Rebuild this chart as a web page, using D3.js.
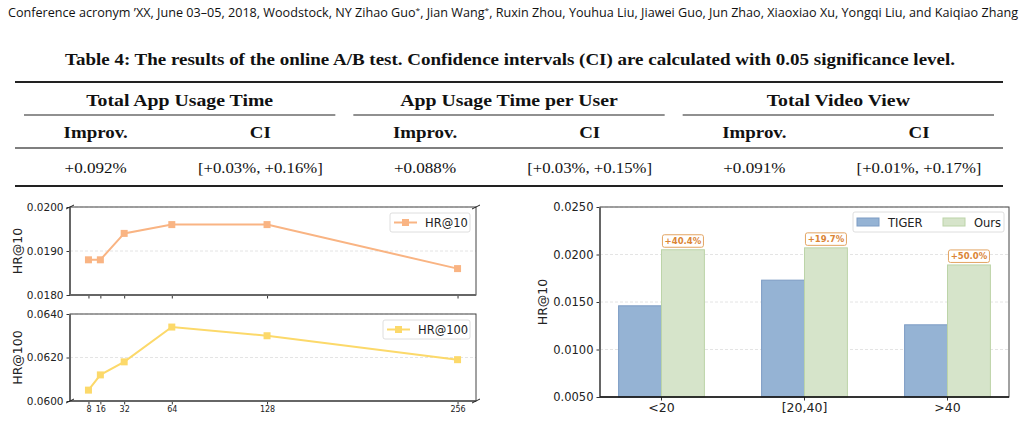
<!DOCTYPE html>
<html>
<head>
<meta charset="utf-8">
<script src="https://cdn.jsdelivr.net/npm/d3@7"></script>
<style>
  body { margin: 0; background: #fff; }
  svg { display: block; }
  .mpl text { font-family: "DejaVu Sans", sans-serif; fill: #222; }
</style>
</head>
<body>
<svg id="page" width="1021" height="421"></svg>
<script>
// ---- data ----
// header pieces; "*" marks become superscripts
const headerParts = ["Conference acronym \u2019XX, June 03\u201305, 2018, Woodstock, NY Zihao Guo", "*", ", Jian Wang", "*",
    ", Ruxin Zhou, Youhua Liu, Jiawei Guo, Jun Zhao, Xiaoxiao Xu, Yongqi Liu, and Kaiqiao Zhang"];
const caption = "Table 4: The results of the online A/B test. Confidence intervals (CI) are calculated with 0.05 significance level.";
const metrics = ["Total App Usage Time", "App Usage Time per User", "Total Video View"];
const subCols = ["Improv.", "CI"];
const improv = ["+0.092%", "+0.088%", "+0.091%"];
const ciText = ["[+0.03%, +0.16%]", "[+0.03%, +0.15%]", "[+0.01%, +0.17%]"];

const dims = [8, 16, 32, 64, 128, 256];
const hr10 = [0.0188, 0.0188, 0.0194, 0.0196, 0.0196, 0.0186];
const hr100 = [0.0605, 0.0612, 0.0618, 0.0634, 0.0630, 0.0619];
const hr10Ticks = [0.0180, 0.0190, 0.0200];
const hr100Ticks = [0.0600, 0.0620, 0.0640];

const buckets = ["<20", "[20,40]", ">40"];
const seriesNames = ["TIGER", "Ours"];
const tiger = [0.0146, 0.0173, 0.0126];
const ours = [0.0205, 0.0207, 0.0189];
const gains = ["+40.4%", "+19.7%", "+50.0%"];
const barTicks = [0.005, 0.010, 0.015, 0.020, 0.025];

const svg = d3.select("#page");

// ---- running header + caption ----
const hdr = svg.append("text")
    .attr("x", 8).attr("y", 17)
    .attr("font-family", "Open Sans, sans-serif")
    .attr("font-size", 12)
    .attr("fill", "#111")
    .attr("textLength", 1010)
    .attr("lengthAdjust", "spacingAndGlyphs");
let raised = false;
headerParts.forEach(p => {
    if (p === "*") {
        hdr.append("tspan").attr("dy", -4).attr("font-size", 8).text(p);
        raised = true;
    } else {
        hdr.append("tspan").attr("dy", raised ? 4 : 0).text(p);
        raised = false;
    }
});

svg.append("text")
    .attr("x", 65).attr("y", 65)
    .attr("font-family", "Liberation Serif, serif")
    .attr("font-weight", "bold")
    .attr("font-size", 16.5)
    .attr("fill", "#111")
    .attr("textLength", 890)
    .attr("lengthAdjust", "spacingAndGlyphs")
    .text(caption);

// ---- table ----
const tbl = svg.append("g").attr("font-family", "Liberation Serif, serif").attr("fill", "#111");
const gx = d3.scaleBand().domain(metrics).range([15, 1003]);
const subFrac = [0.245, 0.745];

function rule(y, x1, x2, w, c) {
    tbl.append("line").attr("x1", x1).attr("x2", x2).attr("y1", y).attr("y2", y)
        .attr("stroke", c || "#222").attr("stroke-width", w);
}
// the paper font (Libertine) runs wider than Times, so stretch each cell a bit
function cell(x, y, txt, bold, size, stretch) {
    const t = tbl.append("text").attr("x", x).attr("y", y)
        .attr("text-anchor", "middle").attr("font-size", size)
        .attr("font-weight", bold ? "bold" : "normal").text(txt);
    const w = t.node().getComputedTextLength();
    t.attr("textLength", w * stretch).attr("lengthAdjust", "spacingAndGlyphs");
}
rule(82, 15, 1003, 2);
rule(148, 15, 1003, 1.3, "#555");
rule(186, 15, 1003, 2);

metrics.forEach((m, i) => {
    const x0 = gx(m), bw = gx.bandwidth();
    cell(x0 + bw / 2, 106, m, true, 17.5, 1.13);
    rule(115, x0 + 9, x0 + bw - 9, 1.2);
    subCols.forEach((s, j) => cell(x0 + bw * subFrac[j], 138, s, true, 17.5, 1.08));
    cell(x0 + bw * subFrac[0], 173, improv[i], false, 15.5, 1.1);
    cell(x0 + bw * subFrac[1], 173, ciText[i], false, 15.5, 1.08);
});

// ---- left: HR vs dimension (two stacked panels) ----
const left = svg.append("g").attr("class", "mpl");
const xDim = d3.scaleLinear().domain([-4.4, 268.4]).range([70, 476]);

function breakMark(g, x, y) {
    g.append("line").attr("x1", x - 4).attr("y1", y + 2).attr("x2", x + 4).attr("y2", y - 2)
        .attr("stroke", "#222").attr("stroke-width", 1);
}

function panel(vals, ticks, top, bottom, color, name, showLabels, marksAtTop) {
    const g = left.append("g");
    const y = d3.scaleLinear().domain([ticks[0], ticks[ticks.length - 1]]).range([bottom, top]);
    // grid
    g.selectAll(".grid").data(ticks).enter().append("line")
        .attr("x1", xDim.range()[0]).attr("x2", xDim.range()[1])
        .attr("y1", d => y(d)).attr("y2", d => y(d))
        .attr("stroke", "#ddd").attr("stroke-width", 0.8).attr("stroke-dasharray", "3,2");
    // axes
    const ya = g.append("g").attr("transform", `translate(${xDim.range()[0]},0)`)
        .call(d3.axisLeft(y).tickValues(ticks).tickFormat(d3.format(".4f")).tickSize(3.5).tickPadding(3));
    ya.selectAll("text").attr("font-size", 10.5).attr("font-family", "DejaVu Sans, sans-serif").attr("fill", "#222");
    ya.select(".domain").remove();
    const xa = g.append("g").attr("transform", `translate(0,${bottom})`)
        .call(d3.axisBottom(xDim).tickValues(dims).tickFormat(showLabels ? d3.format("d") : "").tickSize(3.5).tickPadding(2));
    xa.selectAll("text").attr("font-size", 8).attr("font-family", "DejaVu Sans, sans-serif").attr("fill", "#222");
    xa.select(".domain").remove();
    g.selectAll(".tick line").attr("stroke", "#333");
    // frame
    g.append("rect").attr("x", 70).attr("y", top).attr("width", 406).attr("height", bottom - top)
        .attr("fill", "none").attr("stroke", "#444").attr("stroke-width", 1);
    g.append("line").attr("x1", 70).attr("x2", 70).attr("y1", top).attr("y2", bottom)
        .attr("stroke", "#666").attr("stroke-width", 2);
    g.append("line").attr("x1", 70).attr("x2", 476).attr("y1", bottom).attr("y2", bottom)
        .attr("stroke", "#666").attr("stroke-width", 2);
    // line + markers
    const line = d3.line().x((d, i) => xDim(dims[i])).y(d => y(d));
    g.append("path").datum(vals).attr("d", line).attr("fill", "none")
        .attr("stroke", color).attr("stroke-width", 2);
    g.selectAll(".pt").data(vals).enter().append("rect")
        .attr("x", (d, i) => xDim(dims[i]) - 3.5).attr("y", d => y(d) - 3.5)
        .attr("width", 7).attr("height", 7).attr("fill", color);
    // y label
    g.append("text").attr("transform", `translate(22,${(top + bottom) / 2}) rotate(-90)`)
        .attr("text-anchor", "middle").attr("font-size", 12.5).text(name);
    // legend
    const lw = name === "HR@10" ? 80 : 87;
    const lx = 470 - lw, ly = top + 6;
    g.append("rect").attr("x", lx).attr("y", ly).attr("width", lw).attr("height", 19).attr("rx", 2)
        .attr("fill", "#fff").attr("fill-opacity", 0.8).attr("stroke", "#d5d5d5").attr("stroke-width", 0.8);
    g.append("line").attr("x1", lx + 4).attr("x2", lx + 27).attr("y1", ly + 9.5).attr("y2", ly + 9.5)
        .attr("stroke", color).attr("stroke-width", 2);
    g.append("rect").attr("x", lx + 12).attr("y", ly + 6).attr("width", 7).attr("height", 7).attr("fill", color);
    g.append("text").attr("x", lx + 35).attr("y", ly + 14).attr("font-size", 11.5).text(name);
    // broken-axis marks
    const my = marksAtTop ? top : bottom;
    breakMark(g, 70, my);
    breakMark(g, 476, my);
}
panel(hr10, hr10Ticks, 207, 295, "#f9b483", "HR@10", false, true);
panel(hr100, hr100Ticks, 314, 401, "#fcd96a", "HR@100", true, false);

// ---- right: grouped bars ----
const right = svg.append("g").attr("class", "mpl");
const x0 = d3.scaleBand().domain(buckets).range([600, 1009]).paddingInner(0.4).paddingOuter(0.13);
const x1 = d3.scaleBand().domain(seriesNames).range([0, x0.bandwidth()]);
const yb = d3.scaleLinear().domain([0.005, 0.025]).range([397, 207]);
const fills = { TIGER: "#95b3d4", Ours: "#d6e4ca" };
const edges = { TIGER: "#7d9cc4", Ours: "#bcd4a8" };

right.selectAll(".grid").data(barTicks).enter().append("line")
    .attr("x1", 600).attr("x2", 1009).attr("y1", d => yb(d)).attr("y2", d => yb(d))
    .attr("stroke", "#ddd").attr("stroke-width", 0.8).attr("stroke-dasharray", "3,2");

const rows = buckets.map((b, i) => ({ b, i, vals: [tiger[i], ours[i]] }));
const grp = right.selectAll(".grp").data(rows).enter().append("g")
    .attr("transform", d => `translate(${x0(d.b)},0)`);
grp.selectAll("rect").data(d => d.vals.map((v, k) => ({ v, s: seriesNames[k] }))).enter().append("rect")
    .attr("x", d => x1(d.s)).attr("width", x1.bandwidth())
    .attr("y", d => yb(d.v)).attr("height", d => yb(0.005) - yb(d.v))
    .attr("fill", d => fills[d.s]).attr("stroke", d => edges[d.s]).attr("stroke-width", 1);

// gain labels above "Ours" bars
grp.each(function (d) {
    const g = d3.select(this);
    const cx = x1("Ours") + x1.bandwidth() / 2;
    const top = yb(ours[d.i]);
    g.append("rect").attr("x", cx - 20.5).attr("y", top - 15).attr("width", 41).attr("height", 12.5)
        .attr("rx", 2).attr("fill", "#fff").attr("stroke", "#e3a462").attr("stroke-width", 1);
    g.append("text").attr("x", cx).attr("y", top - 5.7).attr("text-anchor", "middle")
        .attr("font-size", 8.5).attr("font-weight", "bold").style("fill", "#db8535").text(gains[d.i]);
});

const yba = right.append("g").attr("transform", "translate(600,0)")
    .call(d3.axisLeft(yb).tickValues(barTicks).tickFormat(d3.format(".4f")).tickSize(3.5).tickPadding(3));
yba.selectAll("text").attr("font-size", 11.5).attr("font-family", "DejaVu Sans, sans-serif").attr("fill", "#222");
yba.select(".domain").remove();
const xba = right.append("g").attr("transform", "translate(0,397)")
    .call(d3.axisBottom(x0).tickSize(3.5).tickPadding(2.5));
xba.selectAll("text").attr("font-size", 12.5).attr("font-family", "DejaVu Sans, sans-serif").attr("fill", "#222");
xba.select(".domain").remove();
right.selectAll(".tick line").attr("stroke", "#333");

right.append("rect").attr("x", 600).attr("y", 207).attr("width", 409).attr("height", 190)
    .attr("fill", "none").attr("stroke", "#444").attr("stroke-width", 1);
right.append("line").attr("x1", 600).attr("x2", 600).attr("y1", 207).attr("y2", 397)
    .attr("stroke", "#666").attr("stroke-width", 2);
right.append("line").attr("x1", 600).attr("x2", 1009).attr("y1", 397).attr("y2", 397)
    .attr("stroke", "#111").attr("stroke-width", 1.5);

right.append("text").attr("transform", "translate(547,302) rotate(-90)")
    .attr("text-anchor", "middle").attr("font-size", 12.5).text("HR@10");

// legend
const lg = right.append("g").attr("transform", "translate(853,212)");
lg.append("rect").attr("width", 151).attr("height", 20).attr("rx", 2)
    .attr("fill", "#fff").attr("fill-opacity", 0.8).attr("stroke", "#d5d5d5").attr("stroke-width", 0.8);
seriesNames.forEach((s, k) => {
    const ox = k === 0 ? 4 : 90;
    lg.append("rect").attr("x", ox).attr("y", 6).attr("width", 22).attr("height", 8)
        .attr("fill", fills[s]).attr("stroke", edges[s]).attr("stroke-width", 1);
    lg.append("text").attr("x", ox + 31).attr("y", 14.5).attr("font-size", 11.5).text(s);
});
</script>
</body>
</html>
